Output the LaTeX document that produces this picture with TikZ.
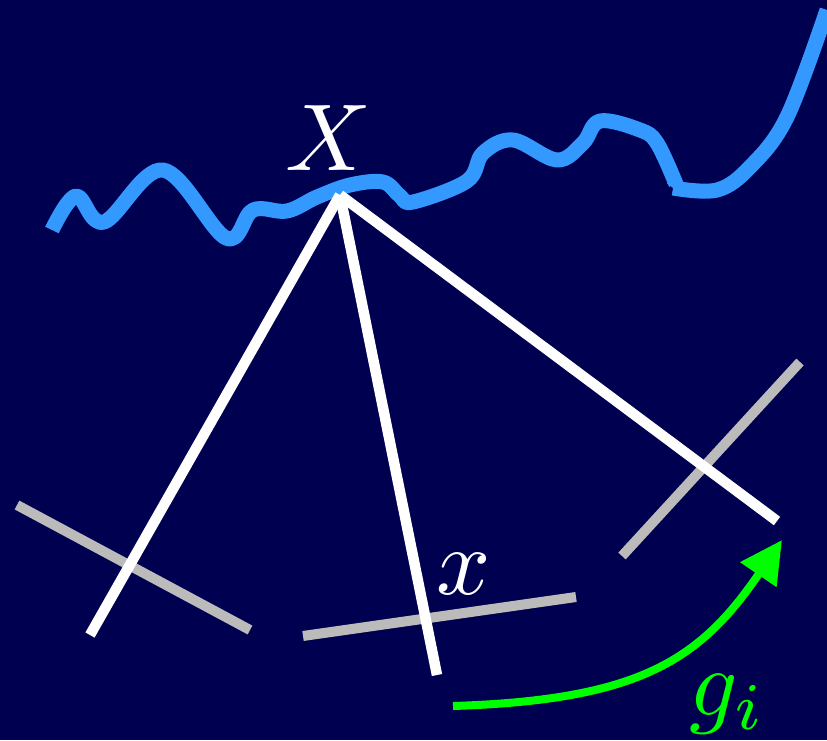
\documentclass[tikz,border=0pt]{standalone}
\usepackage{amsmath}
\usetikzlibrary{arrows.meta}
\definecolor{navybg}{RGB}{0,0,80}
\definecolor{surfblue}{RGB}{51,153,255}
\definecolor{planegray}{RGB}{187,187,187}
\definecolor{motiongreen}{RGB}{0,255,0}
\tikzset{
  ray/.style={white, line width=10.5pt},
  imgplane/.style={planegray, line width=10pt},
  surface/.style={surfblue, line width=15pt, line join=round},
  motion/.style={motiongreen, line width=8pt, -{Triangle[length=42pt, width=42pt]}},
  biglabel/.style={inner sep=0pt, font=\normalsize, scale=9.5}
}
\begin{document}
\begin{tikzpicture}[x=1pt, y=-1pt]
\fill[navybg] (0,0) rectangle (827,740);
\useasboundingbox (0,0) rectangle (827,740);
% surface:
\draw[surface] plot[smooth, tension=0.6] coordinates {(52,230) (76,196) (104,222) (163,170) (226,238) (253,210) (287,211) (317,197) (350,185) (383,182) (400,196) (413,202) (467,181) (483,153) (513,140) (557,160) (583,143) (600,121) (640,130) (657,143) (676,184)} -- (673,188) plot[smooth, tension=0.6] coordinates {(673,188) (717,190) (750,167) (787,117) (827,10)};
% scene point and rays:
\coordinate (P) at (340,195);
\coordinate (R1) at (90,635);
\coordinate (R2) at (437,675);
\coordinate (R3) at (777,521);
% image planes:
\draw[imgplane] (17,505) -- (250,630);
\draw[imgplane] (303,636) -- (576,597);
\draw[imgplane] (622,556) -- (800,362);
\draw[ray] (P) -- (R1);
\draw[ray] (P) -- (R2);
\draw[ray] (P) -- (R3);
% labels:
\node[biglabel, white] (Xlab) at (329,138) {$X$};
\node[biglabel, white] (xlab) at (464,574) {$x$};
\node[biglabel, motiongreen] (glab) at (728,704) {$g_i$};
% motion arrow:
\coordinate (M1) at (453,706);
\coordinate (M2) at (782,540);
\draw[motion] (M1) .. controls (640,700) and (700,660) .. (M2);
\end{tikzpicture}
\end{document}
